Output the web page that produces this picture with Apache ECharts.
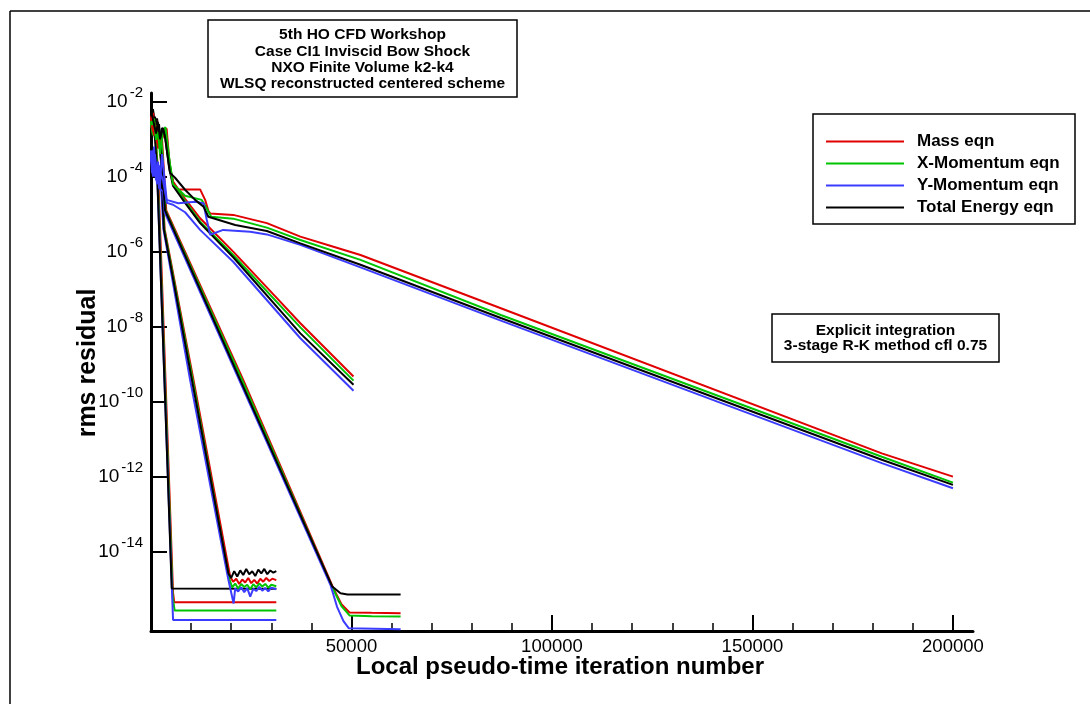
<!DOCTYPE html>
<html>
<head>
<meta charset="utf-8">
<script src="https://cdn.jsdelivr.net/npm/echarts@6/dist/echarts.min.js"></script>
<style>html,body{margin:0;padding:0;background:#fff}#c{width:1090px;height:704px}</style>
</head>
<body>
<div id="c"></div>
<script>
// Values are [iteration, log10(rms residual)]
const equationNames = ['Mass eqn', 'X-Momentum eqn', 'Y-Momentum eqn', 'Total Energy eqn'];
const xTickLabels = [50000, 100000, 150000, 200000];
const xMinorTicks = [10000, 20000, 30000, 40000, 60000, 70000, 80000, 90000, 110000, 120000, 130000, 140000, 160000, 170000, 180000, 190000];
const yTickExponents = [-14, -12, -10, -8, -6, -4, -2];

// Run 1 (fastest convergence)
const massR1 = [[0,-2.50],[500,-2.30],[1000,-2.80],[1750,-3.82],[5500,-15.10],[5800,-15.35],[18000,-15.35],[31250,-15.35]];
const xmomR1 = [[0,-2.60],[500,-2.90],[1000,-2.55],[1600,-3.82],[5400,-15.20],[5900,-15.57],[31250,-15.57]];
const ymomR1 = [[0,-3.40],[500,-3.90],[1000,-3.60],[1500,-3.82],[5250,-15.10],[5500,-15.82],[31250,-15.82]];
const energyR1 = [[0,-2.20],[500,-2.60],[1000,-3.00],[1500,-3.82],[5175,-14.98],[31250,-14.99]];

// Run 2
const massR2 = [[0,-2.40],[500,-2.25],[1000,-2.70],[1500,-2.95],[2000,-2.80],[2600,-3.70],[3400,-5.40],[10600,-9.42],[19750,-14.67],[20500,-14.80],[21250,-14.72],[22000,-14.86],[22750,-14.74],[23500,-14.82],[24250,-14.70],[25000,-14.84],[25750,-14.75],[26500,-14.85],[27250,-14.72],[28000,-14.80],[28750,-14.70],[29500,-14.78],[30250,-14.72],[31250,-14.76]];
const xmomR2 = [[0,-2.50],[500,-2.75],[1000,-2.45],[1500,-3.05],[2000,-2.70],[2500,-3.60],[3300,-5.40],[10400,-9.42],[19500,-14.72],[20250,-14.95],[21000,-14.85],[21750,-14.98],[22500,-14.86],[23250,-14.94],[24000,-14.88],[24750,-15.00],[25500,-14.87],[26250,-14.95],[27000,-14.85],[27750,-14.93],[28500,-14.86],[29250,-14.96],[30000,-14.88],[31250,-14.92]];
const ymomR2 = [[0,-3.40],[500,-3.80],[1000,-3.50],[1500,-4.10],[2000,-3.70],[2500,-4.30],[3100,-5.40],[9750,-9.42],[19300,-14.75],[20600,-15.38],[21000,-14.98],[21750,-15.06],[22500,-14.95],[23250,-15.08],[24000,-14.97],[24750,-15.20],[25500,-14.99],[26250,-15.05],[27000,-14.94],[27750,-15.04],[28500,-14.97],[29250,-15.06],[30000,-14.96],[31250,-15.00]];
const energyR2 = [[0,-2.35],[500,-2.20],[1000,-2.70],[1500,-2.45],[2000,-2.85],[2500,-3.60],[3200,-5.40],[10200,-9.42],[19300,-14.58],[20000,-14.70],[20750,-14.52],[21500,-14.66],[22250,-14.50],[23000,-14.62],[23750,-14.46],[24500,-14.60],[25250,-14.52],[26000,-14.65],[26750,-14.48],[27500,-14.58],[28250,-14.46],[29000,-14.60],[29750,-14.50],[30500,-14.56],[31250,-14.52]];

// Run 3
const massR3 = [[0,-2.45],[500,-2.30],[1000,-2.75],[1500,-2.50],[2000,-2.95],[2750,-3.00],[3800,-4.90],[23000,-9.42],[45500,-14.98],[47500,-15.40],[49500,-15.62],[55000,-15.63],[62250,-15.64]];
const xmomR3 = [[0,-2.55],[500,-2.85],[1000,-2.50],[1500,-3.10],[2000,-2.75],[2750,-3.20],[3600,-4.90],[22700,-9.42],[45300,-14.97],[47500,-15.45],[49500,-15.70],[55000,-15.72],[62250,-15.73]];
const ymomR3 = [[0,-3.60],[500,-3.30],[1000,-4.00],[1500,-3.70],[2000,-4.30],[3000,-4.40],[3400,-4.95],[22200,-9.47],[44800,-14.90],[46400,-15.47],[48000,-15.85],[49300,-16.04],[62250,-16.07]];
const energyR3 = [[0,-2.30],[500,-2.65],[1000,-2.40],[1500,-2.90],[2000,-2.60],[2500,-3.30],[3500,-4.90],[22250,-9.42],[45200,-14.93],[47250,-15.11],[49000,-15.14],[62250,-15.14]];

// Run 4 (stopped at ~50000)
const massR4 = [[0,-2.50],[500,-2.80],[1000,-2.55],[1500,-3.10],[2000,-2.90],[2750,-3.00],[3500,-2.80],[4500,-3.60],[5500,-4.15],[8500,-4.59],[12250,-5.11],[20500,-6.00],[31400,-7.24],[37250,-7.91],[50500,-9.33]];
const xmomR4 = [[0,-2.60],[500,-2.45],[1000,-2.90],[1500,-2.70],[2000,-3.20],[2750,-2.85],[3500,-2.75],[4500,-3.50],[5500,-4.20],[8500,-4.65],[12250,-5.20],[20500,-6.09],[37250,-8.02],[50500,-9.44]];
const ymomR4 = [[0,-3.50],[500,-4.00],[1000,-3.40],[1500,-4.20],[2000,-3.80],[3000,-4.10],[4000,-4.70],[5500,-4.75],[8500,-4.95],[12250,-5.42],[20500,-6.27],[37250,-8.31],[50500,-9.71]];
const energyR4 = [[0,-2.20],[500,-2.50],[1000,-2.75],[1500,-2.50],[2000,-3.05],[2750,-2.70],[3500,-2.90],[4500,-3.75],[5500,-4.25],[8500,-4.70],[12250,-5.24],[20500,-6.15],[37250,-8.18],[50500,-9.55]];

// Run 5 (long, to 200000)
const massR5 = [[0,-2.40],[250,-2.45],[750,-2.90],[1250,-2.62],[1750,-3.25],[2250,-2.97],[3000,-2.78],[3900,-2.72],[4750,-3.82],[5500,-4.13],[6800,-4.34],[12250,-4.34],[13500,-4.62],[14300,-4.91],[14750,-4.98],[20500,-5.02],[28900,-5.24],[37250,-5.60],[45500,-5.87],[52250,-6.09],[87250,-7.51],[182250,-11.38],[200000,-12.00]];
const xmomR5 = [[0,-2.52],[250,-2.62],[750,-2.45],[1250,-3.02],[1750,-2.80],[2250,-3.40],[3000,-2.78],[3600,-2.68],[4750,-3.70],[5500,-4.20],[8500,-4.51],[12650,-4.62],[13900,-4.85],[15000,-5.07],[20500,-5.12],[28900,-5.36],[37250,-5.69],[52250,-6.22],[87250,-7.69],[182250,-11.47],[200000,-12.16]];
const ymomR5 = [[0,-3.30],[250,-3.90],[750,-3.20],[1250,-4.10],[1750,-3.60],[2250,-4.20],[2750,-3.40],[3900,-4.62],[6800,-4.71],[11000,-4.67],[13100,-4.71],[13900,-5.15],[14300,-5.33],[14750,-5.55],[18000,-5.42],[24750,-5.47],[28900,-5.54],[37250,-5.82],[52250,-6.42],[87250,-7.84],[182250,-11.64],[200000,-12.31]];
const energyR5 = [[0,-2.10],[250,-2.35],[750,-2.60],[1250,-2.85],[1750,-2.55],[2250,-3.00],[3000,-2.70],[3500,-2.95],[4750,-3.90],[6000,-4.03],[8500,-4.35],[11000,-4.62],[13100,-4.80],[14300,-5.07],[21000,-5.29],[28900,-5.45],[37250,-5.78],[52250,-6.35],[87250,-7.77],[182250,-11.55],[200000,-12.22]];

const runs = [
  [massR1, xmomR1, ymomR1, energyR1],
  [massR2, xmomR2, ymomR2, energyR2],
  [massR3, xmomR3, ymomR3, energyR3],
  [massR4, xmomR4, ymomR4, energyR4],
  [massR5, xmomR5, ymomR5, energyR5]
];
const colors = ['#e00000', '#00c400', '#3c3cff', '#000000'];
const FONT = '"Liberation Sans", Arial, Helvetica, sans-serif';

const series = [];
runs.forEach(run => {
  run.forEach((data, i) => {
    series.push({
      name: equationNames[i],
      type: 'line',
      data: data,
      showSymbol: false,
      symbol: 'none',
      color: colors[i],
      lineStyle: { color: colors[i], width: 2 },
      animation: false,
      silent: true
    });
  });
});

const chart = echarts.init(document.getElementById('c'), null, { renderer: 'canvas' });
chart.setOption({
  backgroundColor: '#fff',
  animation: false,
  grid: { left: 151, top: 93, width: 822, height: 538, containLabel: false },
  xAxis: [{
    type: 'value', min: 0, max: 205000,
    axisLine: { onZero: false, lineStyle: { color: '#000', width: 3 } },
    axisTick: { inside: true, length: 16, customValues: [0].concat(xTickLabels), lineStyle: { color: '#000', width: 2 } },
    axisLabel: { customValues: xTickLabels, margin: 6, color: '#000', fontSize: 18.5, fontFamily: FONT, formatter: v => String(v) },
    splitLine: { show: false }
  }, {
    type: 'value', min: 0, max: 205000, position: 'bottom', gridIndex: 0,
    axisLine: { show: false },
    axisTick: { inside: true, length: 8, customValues: xMinorTicks, lineStyle: { color: '#000', width: 1.5 } },
    axisLabel: { show: false },
    splitLine: { show: false }
  }],
  yAxis: {
    type: 'value', min: -16.115, max: -1.77,
    axisLine: { onZero: false, lineStyle: { color: '#000', width: 3 } },
    axisTick: { inside: true, length: 16, customValues: yTickExponents, lineStyle: { color: '#000', width: 2 } },
    axisLabel: {
      customValues: yTickExponents, margin: 8,
      formatter: v => '{b|10}{s|' + Math.round(v) + '}',
      rich: {
        b: { fontSize: 19, fontFamily: FONT, color: '#000' },
        s: { fontSize: 15, fontFamily: FONT, color: '#000', padding: [0, 0, 17, 2] }
      }
    },
    splitLine: { show: false }
  },
  legend: {
    data: equationNames,
    orient: 'vertical',
    left: 826, top: 133,
    icon: 'rect', itemWidth: 78, itemHeight: 2, itemGap: 5,
    selectedMode: false,
    padding: 0,
    textStyle: { fontSize: 17, fontWeight: 'bold', fontFamily: FONT, color: '#000', lineHeight: 16, padding: [0, 0, 0, 8] }
  },
  series: series,
  graphic: [
    { type: 'line', shape: { x1: 10, y1: 11, x2: 1090, y2: 11 }, style: { stroke: '#000', lineWidth: 1.5 }, z: 100 },
    { type: 'line', shape: { x1: 10, y1: 11, x2: 10, y2: 704 }, style: { stroke: '#000', lineWidth: 1.5 }, z: 100 },
    { type: 'rect', shape: { x: 208, y: 20, width: 309, height: 77 }, style: { fill: '#fff', stroke: '#000', lineWidth: 1.5 }, z: 100 },
    { type: 'text', x: 362.5, y: 27, z: 101,
      style: { text: '5th HO CFD Workshop\nCase CI1 Inviscid Bow Shock\nNXO Finite Volume k2-k4\nWLSQ reconstructed centered scheme',
        align: 'center', verticalAlign: 'top', lineHeight: 16.3, fontSize: 15.5, fontWeight: 'bold', fontFamily: FONT, fill: '#000' } },
    { type: 'rect', shape: { x: 813, y: 114, width: 262, height: 110 }, style: { fill: 'none', stroke: '#000', lineWidth: 1.5 }, z: 100 },
    { type: 'rect', shape: { x: 772, y: 314, width: 227, height: 48 }, style: { fill: '#fff', stroke: '#000', lineWidth: 1.5 }, z: 100 },
    { type: 'text', x: 885.5, y: 323, z: 101,
      style: { text: 'Explicit integration\n3-stage R-K method cfl 0.75',
        align: 'center', verticalAlign: 'top', lineHeight: 15, fontSize: 15.5, fontWeight: 'bold', fontFamily: FONT, fill: '#000' } },
    { type: 'text', x: 560, y: 667, z: 101,
      style: { text: 'Local pseudo-time iteration number', align: 'center', verticalAlign: 'middle',
        fontSize: 24, fontWeight: 'bold', fontFamily: FONT, fill: '#000' } },
    { type: 'text', x: 88, y: 363, rotation: Math.PI / 2, z: 101,
      style: { text: 'rms residual', align: 'center', verticalAlign: 'middle',
        fontSize: 25, fontWeight: 'bold', fontFamily: FONT, fill: '#000' } }
  ]
});
</script>
</body>
</html>
